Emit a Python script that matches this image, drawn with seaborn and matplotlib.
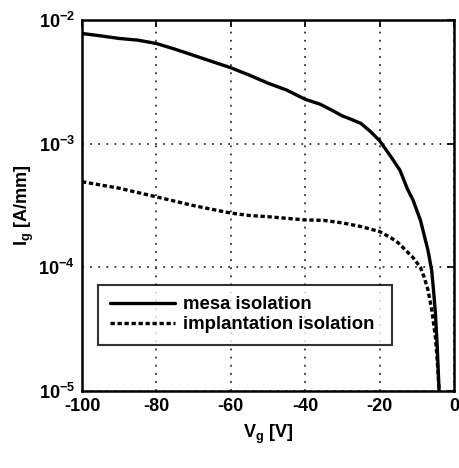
import numpy as np
import pandas as pd
import matplotlib
matplotlib.use("Agg")
import matplotlib.pyplot as plt
import seaborn as sns
from matplotlib.ticker import FixedLocator, FixedFormatter, NullLocator

# ---- data ----
vg_mesa = [-100, -95, -90, -85, -80, -75, -70, -65, -60, -55, -50, -45, -40, -36,
           -33, -30, -27.5, -25, -22.5, -20, -17, -14.5, -12.5, -11, -9, -8, -7, -6,
           -5.5, -5, -4.5, -4]
ig_mesa = [7.80e-3, 7.46e-3, 7.11e-3, 6.89e-3, 6.47e-3, 5.82e-3, 5.19e-3, 4.62e-3,
           4.12e-3, 3.59e-3, 3.09e-3, 2.72e-3, 2.29e-3, 2.09e-3, 1.88e-3, 1.68e-3,
           1.57e-3, 1.46e-3, 1.26e-3, 1.06e-3, 7.9e-4, 6.1e-4, 4.3e-4, 3.5e-4,
           2.4e-4, 1.82e-4, 1.38e-4, 9.5e-5, 6.6e-5, 4.3e-5, 2.3e-5, 1.0e-5]

vg_impl = [-100, -90, -80, -70, -60, -55, -50, -40, -35, -30, -25, -20, -17, -15,
           -13, -11, -9, -8, -7, -6, -5, -4.5, -4]
ig_impl = [4.93e-4, 4.37e-4, 3.72e-4, 3.16e-4, 2.75e-4, 2.63e-4, 2.57e-4, 2.42e-4,
           2.40e-4, 2.29e-4, 2.14e-4, 1.95e-4, 1.74e-4, 1.58e-4, 1.38e-4, 1.20e-4,
           1.0e-4, 8.3e-5, 6.6e-5, 4.6e-5, 2.75e-5, 1.78e-5, 1.02e-5]

series_names = ["mesa isolation", "implantation isolation"]
x_ticks = [-100, -80, -60, -40, -20, 0]
x_ticklabels = ["-100", "-80", "-60", "-40", "-20", "0"]
y_ticks = [1e-5, 1e-4, 1e-3, 1e-2]
y_ticklabels = [r"$\mathregular{10^{-5}}$", r"$\mathregular{10^{-4}}$",
                r"$\mathregular{10^{-3}}$", r"$\mathregular{10^{-2}}$"]

df = pd.concat([
    pd.DataFrame({"Vg": vg_mesa, "Ig": ig_mesa, "series": series_names[0]}),
    pd.DataFrame({"Vg": vg_impl, "Ig": ig_impl, "series": series_names[1]}),
], ignore_index=True)

sns.set_theme(style="white")
plt.rcParams["font.family"] = ["Liberation Sans", "DejaVu Sans"]
plt.rcParams["font.weight"] = "bold"
plt.rcParams["text.color"] = "black"
plt.rcParams["axes.labelcolor"] = "black"
plt.rcParams["mathtext.fontset"] = "custom"
plt.rcParams["mathtext.rm"] = "Liberation Sans:bold"
plt.rcParams["mathtext.it"] = "Liberation Sans:bold"
plt.rcParams["mathtext.bf"] = "Liberation Sans:bold"

fig = plt.figure(figsize=(4.59, 4.68), dpi=100)
ax = fig.add_axes([0.1786, 0.1645, 0.8104, 0.7925])

sns.lineplot(data=df, x="Vg", y="Ig", hue="series", style="series",
             palette=["black", "black"],
             dashes={series_names[0]: "", series_names[1]: (1.3, 0.8)},
             linewidth=2.4, ax=ax, sort=False, legend=True)

ax.set_yscale("log")
ax.set_xlim(-100, 0)
ax.set_ylim(1e-5, 1e-2)
ax.xaxis.set_major_locator(FixedLocator(x_ticks))
ax.xaxis.set_major_formatter(FixedFormatter(x_ticklabels))
ax.yaxis.set_major_locator(FixedLocator(y_ticks))
ax.yaxis.set_major_formatter(FixedFormatter(y_ticklabels))
ax.yaxis.set_minor_locator(NullLocator())
ax.xaxis.set_minor_locator(NullLocator())

ax.grid(True, which="major", color="#333333", linestyle=(0, (1, 3.5)), linewidth=1.3)
ax.tick_params(axis="both", which="major", direction="in", length=5, width=1.2,
               top=True, right=True, labelsize=13, pad=5, colors="black")
for lab in ax.get_xticklabels() + ax.get_yticklabels():
    lab.set_fontweight("bold")
for sp in ax.spines.values():
    sp.set_color("black")
    sp.set_linewidth(1.8)

ax.set_xlabel(r"$\mathregular{V_g}$ [V]", fontsize=13, fontweight="bold",
              labelpad=6, color="black")
ax.set_ylabel(r"$\mathregular{I_g}$ [A/mm]", fontsize=13, fontweight="bold",
              labelpad=2, color="black")

handles, labels = ax.get_legend_handles_labels()
leg = ax.legend(handles, labels, loc="center left",
                bbox_to_anchor=(0.044, 0.121, 0.79, 0.17), mode="expand",
                handlelength=3.5, handletextpad=0.45,
                labelspacing=0.15, borderaxespad=0, borderpad=0.62,
                frameon=True, fancybox=False, edgecolor="black",
                prop={"weight": "bold", "size": 13.4})
leg.get_frame().set_linewidth(1.5)
for line in leg.get_lines():
    line.set_linewidth(2.4)
for t in leg.get_texts():
    t.set_color("black")

fig.savefig("out.png", dpi=100)
